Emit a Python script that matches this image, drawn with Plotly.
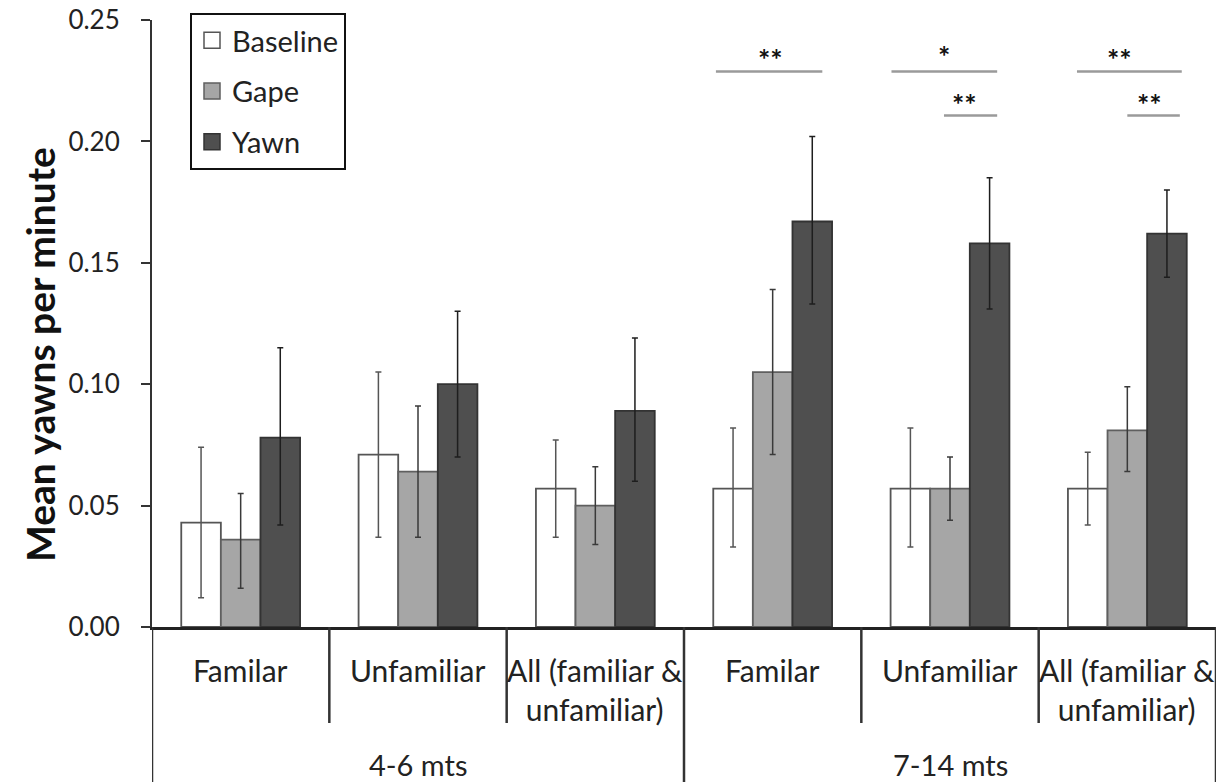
import plotly.graph_objects as go

# ---- data ----
subgroups = ["Familar", "Unfamiliar", "All (familiar &<br>unfamiliar)",
             "Familar", "Unfamiliar", "All (familiar &<br>unfamiliar)"]
age_groups = ["4-6 mts", "7-14 mts"]
series_names = ["Baseline", "Gape", "Yawn"]

baseline = [0.043, 0.071, 0.057, 0.057, 0.057, 0.057]
baseline_hi = [0.074, 0.105, 0.077, 0.082, 0.082, 0.072]
baseline_lo = [0.012, 0.037, 0.037, 0.033, 0.033, 0.042]

gape = [0.036, 0.064, 0.050, 0.105, 0.057, 0.081]
gape_hi = [0.055, 0.091, 0.066, 0.139, 0.070, 0.099]
gape_lo = [0.016, 0.037, 0.034, 0.071, 0.044, 0.064]

yawn = [0.078, 0.100, 0.089, 0.167, 0.158, 0.162]
yawn_hi = [0.115, 0.130, 0.119, 0.202, 0.185, 0.180]
yawn_lo = [0.042, 0.070, 0.060, 0.133, 0.131, 0.144]

# significance brackets: (group index, start offset, end offset, level)
sig_lines = [(3, -0.32, 0.28, 0.2288), (4, -0.33, 0.266, 0.2288), (4, -0.034, 0.266, 0.2107),
             (5, -0.284, 0.307, 0.2288), (5, 0.0, 0.296, 0.2107)]
sig_labels = [(3, -0.01, 0.2340, "**"), (4, -0.034, 0.2354, "*"), (4, 0.083, 0.2156, "**"),
              (5, -0.045, 0.2340, "**"), (5, 0.124, 0.2156, "**")]

FONT = "Lato"
W, H = 1218, 782
L, R, T, B = 152, 2, 20, 155
plot_h = H - T - B


def py(px):
    """pixel row -> paper y"""
    return (H - B - px) / plot_h


def pxx(px):
    """pixel column -> paper x"""
    return (px - L) / (W - L - R)


x = list(range(len(subgroups)))

fills = ["#ffffff", "#a6a6a6", "#4f4f4f"]
outlines = ["#555555", "#5f5f5f", "#333333"]
err_cols = ["#555555", "#3a3a3a", "#1e1e1e"]
vals = [baseline, gape, yawn]
his = [baseline_hi, gape_hi, yawn_hi]
los = [baseline_lo, gape_lo, yawn_lo]

fig = go.Figure()
for name, v, hi, lo, fc, lc, ec in zip(series_names, vals, his, los, fills, outlines, err_cols):
    fig.add_trace(go.Bar(
        x=x, y=v, name=name, showlegend=False,
        marker=dict(color=fc, line=dict(color=lc, width=1.8)),
        error_y=dict(type="data", symmetric=False,
                     array=[h - m for h, m in zip(hi, v)],
                     arrayminus=[m - l for m, l in zip(v, lo)],
                     color=ec, thickness=1.5, width=3),
    ))
    # legend entry
    fig.add_trace(go.Scatter(
        x=[None], y=[None], mode="markers", name=name, legendgroup=name,
        marker=dict(symbol="square", size=18, color=fc, line=dict(color=lc, width=1.5)),
    ))

shapes = []
# dividers under the axis
for b in [0.5, 1.5, 3.5, 4.5]:
    shapes.append(dict(type="line", xref="x", yref="paper", x0=b, x1=b,
                       y0=0, y1=py(723), line=dict(color="#333333", width=2.5)))
for b in [-0.5, 2.5, 5.5]:
    shapes.append(dict(type="line", xref="x", yref="paper", x0=b, x1=b,
                       y0=0, y1=py(782), line=dict(color="#333333", width=2.5)))
# significance lines
for g, a, b, lev in sig_lines:
    shapes.append(dict(type="line", xref="x", yref="y", x0=g + a, x1=g + b,
                       y0=lev, y1=lev, line=dict(color="#9a9a9a", width=2.5)))

annotations = []
for i, lab in enumerate(subgroups):
    annotations.append(dict(x=i, y=py(689) if "<br>" in lab else py(670), xref="x", yref="paper",
                            text=lab, showarrow=False, xanchor="center", yanchor="middle",
                            font=dict(family=FONT, size=30, color="#222222")))
for k, lab in enumerate(age_groups):
    annotations.append(dict(x=1 + 3 * k, y=py(764), xref="x", yref="paper", text=lab,
                            showarrow=False, xanchor="center", yanchor="middle",
                            font=dict(family=FONT, size=29, color="#222222")))
for g, off, lev, lab in sig_labels:
    annotations.append(dict(x=g + off, y=lev, xref="x", yref="y", text="<b>" + lab + "</b>",
                            showarrow=False, xanchor="center", yanchor="middle",
                            font=dict(family=FONT, size=29, color="#111111")))
# y-axis title
annotations.append(dict(x=pxx(40), y=py(355), xref="paper", yref="paper",
                        text="<b>Mean yawns per minute</b>", textangle=-90, showarrow=False,
                        xanchor="center", yanchor="middle",
                        font=dict(family=FONT, size=39, color="#111111")))

fig.update_layout(
    width=W, height=H,
    margin=dict(l=L, r=R, t=T, b=B),
    paper_bgcolor="white", plot_bgcolor="white",
    barmode="group", bargap=0.33, bargroupgap=0,
    font=dict(family=FONT, size=30, color="#222222"),
    showlegend=True,
    legend=dict(x=pxx(190), y=py(13), xanchor="left", yanchor="top",
                bordercolor="#111111", borderwidth=2, bgcolor="white",
                font=dict(family=FONT, size=29, color="#222222"),
                tracegroupgap=10, itemsizing="trace"),
    shapes=shapes, annotations=annotations,
    xaxis=dict(range=[-0.5, 5.5], showline=True, linecolor="#222222", linewidth=2.5,
               showticklabels=False, ticks="", showgrid=False, zeroline=False, fixedrange=True),
    yaxis=dict(range=[0, 0.25], dtick=0.05, tickformat=".2f", showline=True,
               linecolor="#333333", linewidth=2, ticks="outside", ticklen=9, tickwidth=2,
               tickcolor="#333333", showgrid=False, zeroline=False, ticklabelstandoff=16,
               tickfont=dict(family=FONT, size=26, color="#222222")),
)

fig.write_html("out.html", config={"displayModeBar": False},
               post_script="document.body.style.margin='0';document.body.style.overflow='hidden';")
